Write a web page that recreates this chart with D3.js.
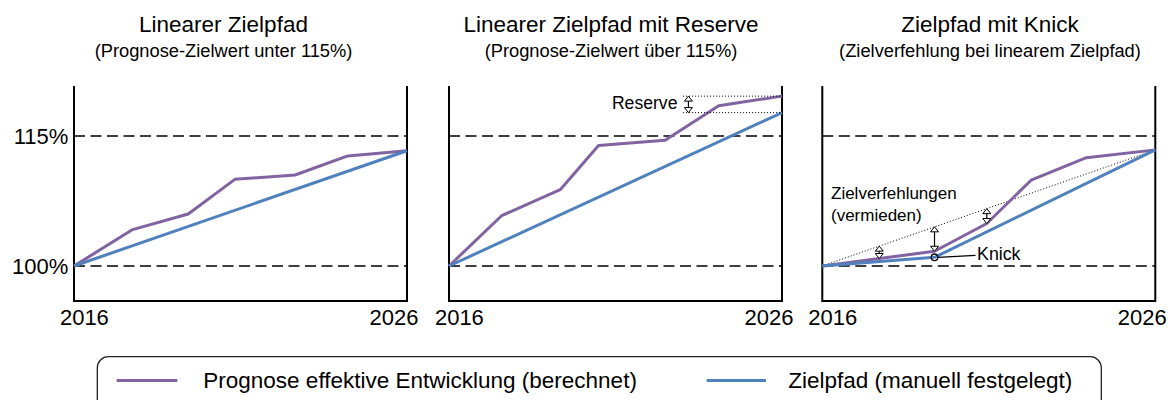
<!DOCTYPE html>
<html>
<head>
<meta charset="utf-8">
<script src="https://cdn.jsdelivr.net/npm/d3@7"></script>
<style>
  body { margin: 0; background: #fff; }
  text { font-family: "Liberation Sans", Arial, sans-serif; fill: #000; }
</style>
</head>
<body>
<div id="chart"></div>
<script>
// values
var tickYears = [2016, 2026];
var tickPercents = [100, 115];

var titles = ["Linearer Zielpfad", "Linearer Zielpfad mit Reserve", "Zielpfad mit Knick"];
var subtitles = ["(Prognose-Zielwert unter 115%)", "(Prognose-Zielwert über 115%)", "(Zielverfehlung bei linearem Zielpfad)"];

var p1Years = [2016, 2017.76, 2019.43, 2020.83, 2022.64, 2024.22, 2026];
var p1Prognose = [100, 104.2, 106.0, 110.0, 110.5, 112.7, 113.3];
var p1ZielYears = [2016, 2026];
var p1Ziel = [100, 113.3];

var p2Years = [2016, 2017.58, 2019.34, 2020.49, 2022.49, 2024.1, 2026];
var p2Prognose = [100, 105.8, 108.8, 113.9, 114.5, 118.5, 119.6];
var p2ZielYears = [2016, 2026];
var p2Ziel = [100, 117.7];

var p3Years = [2016, 2019.37, 2020.94, 2022.27, 2023.93, 2026];
var p3Prognose = [100, 101.7, 104.9, 109.9, 112.5, 113.4];
var p3ZielYears = [2016, 2019.37, 2026];
var p3Ziel = [100, 101.0, 113.4];
var p3ArrowYears = [2017.71, 2019.37, 2020.94];

var reserveArrowYear = 2023.19;
var reserveLineStart = 2023.03;

var legendLabels = ["Prognose effektive Entwicklung (berechnet)", "Zielpfad (manuell festgelegt)"];

var purple = "#8064A2", blue = "#4F81BD";
var w = 1168, h = 400;

var svg = d3.select("#chart").append("svg")
    .attr("width", w)
    .attr("height", h);

var y = d3.scaleLinear().domain([95.96, 120.77]).range([301, 86]);

var panelLeft = [74, 449, 822.3];
var panelW = 333;
var titleCenter = [223.5, 611, 990];

function zip(xs, vs) {
    return xs.map(function(d, i) { return {year: d, v: vs[i]}; });
}
// value of a polyline at a given year
function valueAt(xs, vs, t) {
    return d3.scaleLinear().domain(xs).range(vs)(t);
}

function arrow(g, x, yTop, yBot) {
    g.append("line")
        .attr("x1", x).attr("x2", x)
        .attr("y1", yTop + 4).attr("y2", yBot - 4)
        .style("stroke", "black").style("stroke-width", 1.2);
    g.append("path")
        .attr("d", "M" + x + "," + yTop + "L" + (x - 4) + "," + (yTop + 5) + "L" + (x + 4) + "," + (yTop + 5) + "Z")
        .style("fill", "white").style("stroke", "black").style("stroke-width", 1);
    g.append("path")
        .attr("d", "M" + x + "," + yBot + "L" + (x - 4) + "," + (yBot - 5) + "L" + (x + 4) + "," + (yBot - 5) + "Z")
        .style("fill", "white").style("stroke", "black").style("stroke-width", 1);
}

function dotted(g, x1, x2, y1, y2) {
    g.append("line")
        .attr("x1", x1).attr("x2", x2).attr("y1", y1).attr("y2", y2)
        .style("stroke", "black").style("stroke-width", 1)
        .style("stroke-dasharray", "1,2");
}

var panels = [
    {prog: zip(p1Years, p1Prognose), ziel: zip(p1ZielYears, p1Ziel)},
    {prog: zip(p2Years, p2Prognose), ziel: zip(p2ZielYears, p2Ziel)},
    {prog: zip(p3Years, p3Prognose), ziel: zip(p3ZielYears, p3Ziel)}
];

var xs = [];

panels.forEach(function(p, i) {
    var x = d3.scaleLinear().domain([2016, 2026]).range([panelLeft[i], panelLeft[i] + panelW]);
    xs.push(x);
    var g = svg.append("g");

    // titles
    g.append("text")
        .attr("x", titleCenter[i]).attr("y", 32.3)
        .style("text-anchor", "middle")
        .style("font-size", "22.5px")
        .text(titles[i]);
    g.append("text")
        .attr("x", titleCenter[i]).attr("y", 57.3)
        .style("text-anchor", "middle")
        .style("font-size", "18.3px")
        .text(subtitles[i]);

    // dashed reference lines
    g.selectAll(".ref")
        .data(tickPercents)
        .enter().append("line")
        .attr("x1", x(2016)).attr("x2", x(2026))
        .attr("y1", function(d) { return y(d); })
        .attr("y2", function(d) { return y(d); })
        .style("stroke", "black")
        .style("stroke-width", 1.6)
        .style("stroke-dasharray", "11,5.5");

    // frame: left, right, bottom
    g.append("path")
        .attr("d", "M" + x(2016) + "," + y.range()[1] + "V" + y.range()[0] + "H" + x(2026) + "V" + y.range()[1])
        .style("fill", "none").style("stroke", "black").style("stroke-width", 2);

    // x axis labels
    var xAxis = g.append("g")
        .attr("transform", "translate(0," + y.range()[0] + ")")
        .call(d3.axisBottom(x).tickValues(tickYears).tickFormat(d3.format("d")).tickSize(0).tickPadding(8.5));
    xAxis.select(".domain").remove();
    xAxis.selectAll("text")
        .style("font-size", "22px")
        .attr("fill", "#000")
        .style("font-family", "'Liberation Sans', Arial, sans-serif")
        .style("text-anchor", function(d) { return d === 2016 ? "start" : "end"; })
        .attr("dx", function(d) { return d === 2016 ? -14.6 : 11; });

    // y axis labels on first panel only
    if (i === 0) {
        var yAxis = g.append("g")
            .attr("transform", "translate(" + x(2016) + ",0)")
            .call(d3.axisLeft(y).tickValues(tickPercents).tickFormat(function(d) { return d + "%"; }).tickSize(0).tickPadding(5.7));
        yAxis.select(".domain").remove();
        yAxis.selectAll("text")
            .style("font-size", "22px")
            .attr("fill", "#000")
            .style("font-family", "'Liberation Sans', Arial, sans-serif");
    }

    var line = d3.line()
        .x(function(d) { return x(d.year); })
        .y(function(d) { return y(d.v); });

    // Panel 3: linear path (dotted) drawn under the lines
    if (i === 2) {
        dotted(g, x(2016), x(2026), y(p3Ziel[0]), y(p3Ziel[p3Ziel.length - 1]));
    }

    g.append("path")
        .datum(p.prog)
        .attr("d", line)
        .style("fill", "none").style("stroke", purple).style("stroke-width", 3)
        .style("stroke-linejoin", "round");
    g.append("path")
        .datum(p.ziel)
        .attr("d", line)
        .style("fill", "none").style("stroke", blue).style("stroke-width", 3)
        .style("stroke-linejoin", "round");

    if (i === 1) {
        var top = y(p2Prognose[p2Prognose.length - 1]);
        var bot = y(p2Ziel[p2Ziel.length - 1]);
        dotted(g, x(reserveLineStart), x(2026), top, top);
        dotted(g, x(reserveLineStart), x(2026), bot, bot);
        arrow(g, x(reserveArrowYear), top, bot);
        g.append("text")
            .attr("x", x(reserveArrowYear) - 11).attr("y", 109.3)
            .style("text-anchor", "end")
            .style("font-size", "17.6px")
            .text("Reserve");
    }

    if (i === 2) {
        p3ArrowYears.forEach(function(t) {
            var lin = valueAt([2016, 2026], [p3Ziel[0], p3Ziel[p3Ziel.length - 1]], t);
            var prog = valueAt(p3Years, p3Prognose, t);
            arrow(g, x(t), y(lin), y(prog));
        });
        var kx = x(p3ZielYears[1]), ky = y(p3Ziel[1]);
        g.append("line")
            .attr("x1", kx + 3.3).attr("x2", kx + 41).attr("y1", ky).attr("y2", ky - 2)
            .style("stroke", "black").style("stroke-width", 1.2);
        g.append("circle")
            .attr("cx", kx).attr("cy", ky).attr("r", 3.3)
            .style("fill", "none").style("stroke", "black").style("stroke-width", 1.3);
        g.append("text")
            .attr("x", kx + 42.5).attr("y", 260)
            .style("font-size", "17.8px")
            .text("Knick");
        g.append("text")
            .attr("x", 831).attr("y", 199.3)
            .style("font-size", "17px")
            .text("Zielverfehlungen");
        g.append("text")
            .attr("x", 831).attr("y", 220.7)
            .style("font-size", "17px")
            .text("(vermieden)");
    }
});

// legend
var legend = svg.append("g");
legend.append("rect")
    .attr("x", 97.3).attr("y", 356.7)
    .attr("width", 1004).attr("height", 60)
    .attr("rx", 11).attr("ry", 11)
    .style("fill", "white").style("stroke", "#222").style("stroke-width", 1.3);

var legendItems = [
    {label: legendLabels[0], color: purple, x1: 116.7, x2: 177.3, tx: 203.3},
    {label: legendLabels[1], color: blue, x1: 706.7, x2: 766, tx: 788.3}
];
legend.selectAll(".item")
    .data(legendItems)
    .enter().append("line")
    .attr("x1", function(d) { return d.x1; })
    .attr("x2", function(d) { return d.x2; })
    .attr("y1", 380.5).attr("y2", 380.5)
    .style("stroke", function(d) { return d.color; })
    .style("stroke-width", 3);
legend.selectAll(".lbl")
    .data(legendItems)
    .enter().append("text")
    .attr("x", function(d) { return d.tx; })
    .attr("y", 387.5)
    .style("font-size", "22.5px")
    .text(function(d) { return d.label; });
</script>
</body>
</html>
